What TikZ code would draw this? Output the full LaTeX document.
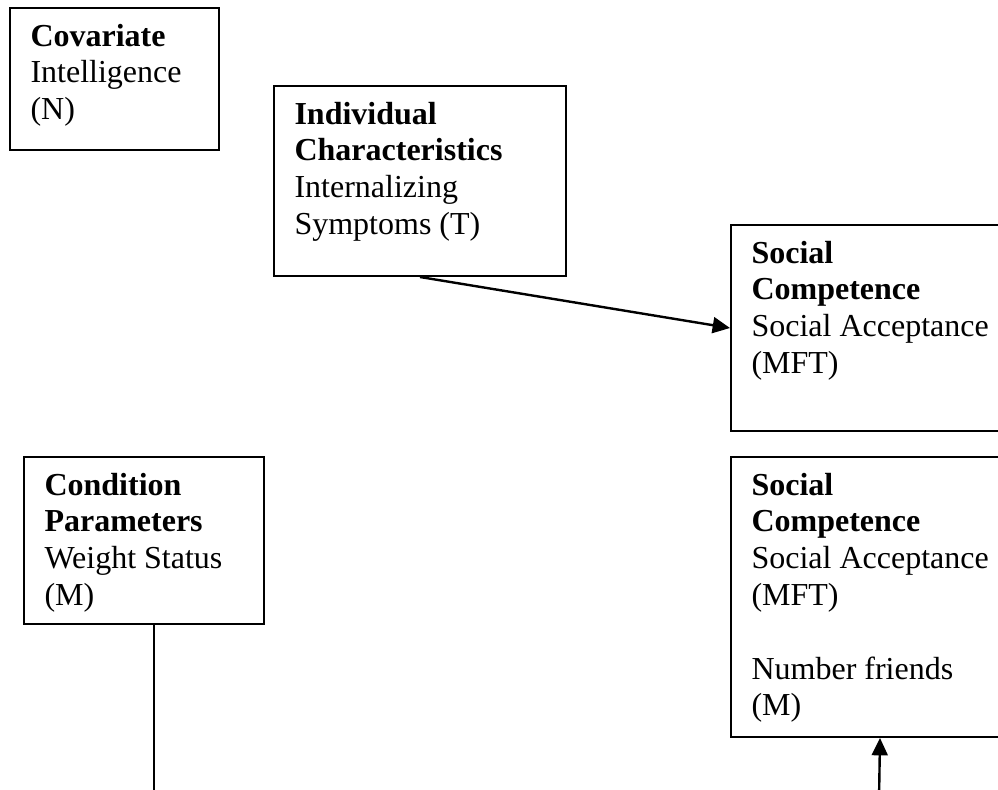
\documentclass[tikz,border=0pt]{standalone}
\usepackage{fontspec}
\setmainfont{Liberation Serif}
\usetikzlibrary{positioning,calc,arrows.meta}

\tikzset{
  varbox/.style={draw, line width=0.75pt, anchor=north west, inner sep=0pt},
  vartext/.style={anchor=base west, inner sep=0pt, font=\fontsize{12}{13.8}\selectfont},
  link/.style={line width=0.9pt},
  linkarrow/.style={line width=0.9pt, -{Triangle[length=6.5pt,width=6pt]}}
}
\newcommand{\varlines}[1]{\parbox[t]{8cm}{\raggedright #1}}

\begin{document}
\begin{tikzpicture}[x=0.375pt, y=-0.375pt]

% Frame of the picture
\fill[white] (0,0) rectangle (998,789);
\useasboundingbox (0,0) rectangle (998,789);
\clip (0,0) rectangle (998,789);

% Covariate
\node[varbox, minimum width=78.375pt, minimum height=53.25pt] (covariate) at (9,7) {};
\node[vartext] (covariatetxt) at ($(covariate.north west)+(21,39)$)
  {\varlines{\textbf{Covariate}\\Intelligence\\(N)}};

% Individual characteristics
\node[varbox, minimum width=109.5pt, minimum height=71.25pt] (indiv) at (273,85) {};
\node[vartext] (indivtxt) at ($(indiv.north west)+(21,39)$)
  {\varlines{\textbf{Individual}\\\textbf{Characteristics}\\Internalizing\\Symptoms (T)}};

% Social competence (upper)
\node[varbox, minimum width=111.75pt, minimum height=77.25pt] (socA) at (730,224) {};
\node[vartext] (socAtxt) at ($(socA.north west)+(21,39)$)
  {\varlines{\textbf{Social}\\\textbf{Competence}\\Social Acceptance\\(MFT)}};

% Condition parameters
\node[varbox, minimum width=90pt, minimum height=62.625pt] (cond) at (23,456) {};
\node[vartext] (condtxt) at ($(cond.north west)+(21,39)$)
  {\varlines{\textbf{Condition}\\\textbf{Parameters}\\Weight Status\\(M)}};

% Social competence (lower)
\node[varbox, minimum width=111.75pt, minimum height=105pt] (socB) at (730,456) {};
\node[vartext] (socBtxt) at ($(socB.north west)+(21,39)$)
  {\varlines{\textbf{Social}\\\textbf{Competence}\\Social Acceptance\\(MFT)\\[\baselineskip]Number friends\\(M)}};

% Connectors
\coordinate (condend) at (154,800);
\coordinate (socBin) at (879,800);
\draw[linkarrow] (indiv.south) -- (socA.west);
\draw[link] (cond.south -| condend) -- (condend);
\draw[linkarrow] (socBin) -- (socB.south);

\end{tikzpicture}
\end{document}
